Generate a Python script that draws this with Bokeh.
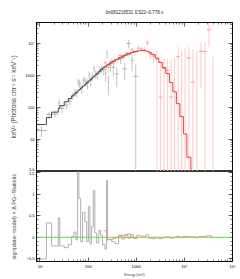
from bokeh.plotting import figure
from bokeh.models import Range1d, LogAxis, LinearAxis, FixedTicker, Span
from bokeh.layouts import column
from bokeh.embed import file_html
from bokeh.resources import INLINE

FONT = "Liberation Sans"

# ---------------- data ----------------
title_text = "bn081216531 0.522\u20130.778 s"

# NaI (black/grey) spectrum, bin edges in keV
nai_edges = [8.45, 13.6, 17.4, 24.0, 25.8, 31.9, 38.7, 45.3, 50.6, 55.7, 60.4, 64.3,
             69.9, 76.8, 85.8, 93.0, 101, 109, 118, 128, 138, 150, 167, 181, 199,
             223, 242, 254, 276, 308, 361, 429, 521, 632, 767, 880, 1080]
nai_model = [29.5, 48.5, 71.6, 94, 114, 151, 191, 230, 265, 299, 330, 365, 412, 474,
             541, 604, 675, 750, 838, 933, 1038, 1182, 1345, 1520, 1740, 1950, 2090,
             2240, 2450, 2750, 3160, 3630, 4270, 4790, 5250, 5650]
nai_flux = [19, 60, 62, 140, 95, 120, 160, 232, 300, 285, 620, 560, 390, 720, 650,
            560, 1050, 680, 950, 1650, 1120, 1060, 1500, 1600, 1500, 1150, 4800, 620,
            2100, 1800, 1130, 3300, 1620, 10000, 2950, 940]
nai_err = [7, 13, 14, 40, 28, 32, 42, 60, 75, 80, 180, 170, 120, 200, 210, 190, 280,
           230, 290, 380, 330, 340, 400, 450, 480, 520, 1500, 380, 750, 850, 700, 1000,
           900, 3000, 1600, 1300]
nai_resid = [-0.5, 0.33, -0.2, 0.45, -0.2, -0.24, -0.17, 0.02, 0.12, -0.06, 1.52, 0.9,
             -0.1, 0.58, 0.36, -0.1, 0.71, -0.15, 0.24, 1.08, 0.1, -0.13, 0.16, 0.05,
             -0.17, -0.27, 1.31, -0.05, -0.05, -0.1, -0.15, 0.03, 0.05, 0.07, 0.0, -0.02]

# BGO (red) spectrum, bin edges in keV
bgo_edges = [210, 243, 280, 324, 374, 432, 499, 576, 665, 768, 887, 1024, 1183, 1366,
             1577, 1820, 2102, 2486, 2942, 3481, 4118, 4872, 5760, 6813, 8060, 9530,
             11270, 13650, 16550, 20050, 24300, 29400, 35650, 43150]
bgo_model = [1860, 2140, 2450, 2820, 3160, 3550, 3980, 4370, 4790, 5250, 5620, 5890,
             6030, 6030, 5750, 5130, 4470, 3470, 2570, 1780, 1150, 600, 310, 132, 52,
             15, 2.8, 0.25, 0.016, 0.0005, 1e-5, 1e-7, 1e-9]
bgo_flux = [2500, 1780, 2800, 3000, 3160, 4200, 3700, 5000, 4600, 6300, 5400, 7200,
            6800, 6300, 10500, 4700, 4000, 3300, 210, 1650, 1450, 215, 0.5, 3900, 0.5,
            0.5, 3550, 620, 0.5, 5700, 5500, 27000, 0.5]
bgo_err = [700, 600, 650, 700, 700, 800, 800, 900, 900, 1000, 1000, 1200, 1300, 1400,
           2500, 1500, 1600, 3400, 2300, 1850, 1750, 2800, 3500, 4100, 6000, 7000, 4450,
           5900, 6000, 5300, 5500, 19000, 4000]
bgo_resid = [0.15, -0.06, -0.05, -0.03, 0.0, 0.05, -0.04, 0.06, -0.02, 0.06, -0.03,
             0.05, 0.03, 0.02, 0.06, -0.02, -0.03, -0.01, -0.03, -0.01, 0.01, -0.02,
             -0.01, 0.02, -0.01, 0.02, 0.01, 0.01, -0.01, 0.02, 0.02, 0.04, 0.0]

x_ticks = [10, 100, 1000, 10000, 100000]
x_labels = ["10", "100", "1000", "10\u2074", "10\u2075"]
y1_ticks = [1, 10, 100, 1000, 10000]
y1_labels = ["1.0", "10", "100", "1000", "10\u2074"]
y2_ticks = [-0.5, 0, 0.5, 1, 1.5]
y2_labels = ["\u22120.5", "0", "0.5", "1", "1.5"]

# ---------------- helpers ----------------
def step_xy(edges, vals):
    xs, ys = [], []
    for i, v in enumerate(vals):
        xs += [edges[i], edges[i + 1]]
        ys += [v, v]
    return xs, ys

def log_minor(lo, hi):
    out = []
    d = lo
    while d < hi:
        for k in range(2, 10):
            out.append(k * d)
        d *= 10
    return out

def style_axis(ax, labels=True, size="4.0px"):
    ax.major_tick_in = 4
    ax.major_tick_out = 0
    ax.minor_tick_in = 2
    ax.minor_tick_out = 0
    ax.axis_line_color = "black"
    ax.axis_line_width = 0.8
    ax.major_tick_line_color = "black"
    ax.minor_tick_line_color = "black"
    ax.major_tick_line_width = 0.6
    ax.minor_tick_line_width = 0.5
    ax.major_label_text_font = FONT
    ax.major_label_text_color = "black"
    if labels:
        ax.major_label_text_font_size = size
        ax.major_label_standoff = 2
    else:
        ax.major_label_text_font_size = "1px"
        ax.major_label_text_alpha = 0
        ax.major_label_standoff = 0

xtick = FixedTicker(ticks=x_ticks, minor_ticks=log_minor(1, 1e5))
y1tick = FixedTicker(ticks=y1_ticks, minor_ticks=log_minor(1, 1e5))
y2tick = FixedTicker(ticks=y2_ticks,
                     minor_ticks=[round(-0.5 + 0.1 * i, 2) for i in range(21)])

W = 240
H1 = 171
H2 = 108
xr = Range1d(8.46, 1e5)

# ---------------- top panel ----------------
p1 = figure(width=W, height=H1, x_axis_type="log", y_axis_type="log",
            x_axis_location=None,
            x_range=xr, y_range=Range1d(1.0, 45300),
            output_backend="svg", toolbar_location=None,
            min_border_left=36, min_border_right=8, min_border_top=22,
            min_border_bottom=0, title=title_text)
p1.title.text_font = FONT
p1.title.text_font_size = "4.5px"
p1.title.text_font_style = "normal"
p1.title.text_color = "#222222"
p1.title.align = "center"
p1.title.vertical_align = "top"
p1.title.offset = 0
p1.title.standoff = 12
p1.grid.visible = False
p1.outline_line_color = "black"
p1.outline_line_width = 0.8
p1.background_fill_color = "white"
p1.border_fill_color = "white"

p1.yaxis.ticker = y1tick
p1.yaxis.major_label_overrides = dict(zip(y1_ticks, y1_labels))
style_axis(p1.yaxis[0], labels=True)
p1.yaxis.axis_label = "keV\u00b2 (Photons cm\u207b\u00b2 s\u207b\u00b9 keV\u207b\u00b9)"
p1.yaxis.axis_label_text_font = FONT
p1.yaxis.axis_label_text_font_size = "6.4px"
p1.yaxis.axis_label_text_font_style = "normal"
p1.yaxis.axis_label_standoff = 6
a = LogAxis(ticker=xtick)
style_axis(a, labels=False)
p1.add_layout(a, "above")
a = LogAxis(ticker=y1tick)
style_axis(a, labels=False)
p1.add_layout(a, "right")

nai_c = [(nai_edges[i] * nai_edges[i + 1]) ** 0.5 for i in range(len(nai_flux))]
bgo_c = [(bgo_edges[i] * bgo_edges[i + 1]) ** 0.5 for i in range(len(bgo_flux))]

# NaI data crosses
p1.segment(x0=nai_edges[:-1], x1=nai_edges[1:], y0=nai_flux, y1=nai_flux,
           line_color="#9a9a9a", line_width=0.8)
p1.segment(x0=nai_c, x1=nai_c,
           y0=[max(f - e, 1e-3) for f, e in zip(nai_flux, nai_err)],
           y1=[f + e for f, e in zip(nai_flux, nai_err)],
           line_color="#b4b4b4", line_width=0.8)
xs, ys = step_xy(nai_edges, nai_model)
p1.line(xs, ys, line_color="#333333", line_width=0.9)

# BGO data crosses
p1.segment(x0=bgo_c, x1=bgo_c,
           y0=[max(f - e, 1e-3) for f, e in zip(bgo_flux, bgo_err)],
           y1=[f + e for f, e in zip(bgo_flux, bgo_err)],
           line_color="#ffc4c4", line_width=0.9)
p1.segment(x0=bgo_edges[:-1], x1=bgo_edges[1:], y0=bgo_flux, y1=bgo_flux,
           line_color="#ff8a8a", line_width=0.9)
xs, ys = step_xy(bgo_edges, bgo_model)
p1.line(xs, ys, line_color="#e83a3a", line_width=1.0)

# ---------------- residual panel ----------------
p2 = figure(width=W, height=H2, x_axis_type="log",
            x_range=xr, y_range=Range1d(-0.56, 1.52),
            output_backend="svg", toolbar_location=None,
            min_border_left=36, min_border_right=8, min_border_top=0,
            min_border_bottom=17)
p2.grid.visible = False
p2.outline_line_color = "black"
p2.outline_line_width = 0.8
p2.background_fill_color = "white"
p2.border_fill_color = "white"

p2.xaxis.ticker = xtick
p2.xaxis.major_label_overrides = dict(zip(x_ticks, x_labels))
style_axis(p2.xaxis[0], labels=True, size="4.2px")
p2.xaxis.axis_label = "Energy (keV)"
p2.xaxis.axis_label_text_font = FONT
p2.xaxis.axis_label_text_font_size = "3.5px"
p2.xaxis.axis_label_text_font_style = "normal"
p2.xaxis.axis_label_standoff = 1
p2.yaxis.ticker = y2tick
p2.yaxis.major_label_overrides = dict(zip(y2_ticks, y2_labels))
style_axis(p2.yaxis[0], labels=True)
p2.yaxis.axis_label = "sign(data\u2212model) \u00d7 \u0394 PG\u2212Statistic"
p2.yaxis.axis_label_text_font = FONT
p2.yaxis.axis_label_text_font_size = "5.6px"
p2.yaxis.axis_label_text_font_style = "normal"
p2.yaxis.axis_label_standoff = 7
a = LinearAxis(ticker=y2tick)
style_axis(a, labels=False)
p2.add_layout(a, "right")

p2.add_layout(Span(location=0, dimension="width", line_color="#5fd84a", line_width=1.0))
xs, ys = step_xy(nai_edges, nai_resid)
p2.line(xs, ys, line_color="#a8a8a8", line_width=0.9)
xs, ys = step_xy(bgo_edges, bgo_resid)
p2.line(xs, ys, line_color="#ff8a8a", line_width=0.9)

layout = column(p1, p2, spacing=0)
open("out.html", "w").write(file_html(layout, INLINE))
